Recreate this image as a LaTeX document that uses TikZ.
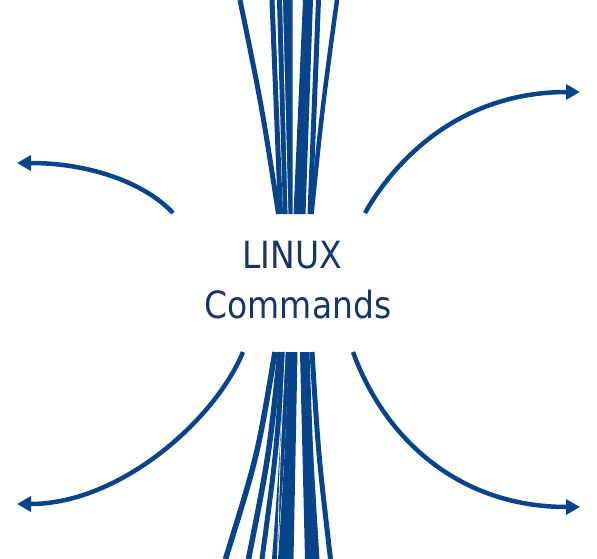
\documentclass[tikz,border=0pt]{standalone}
\usepackage{fontspec}
\usetikzlibrary{arrows.meta}
\newfontfamily\labelfont[FakeStretch=0.88]{DejaVu Sans}
\definecolor{strandblue}{RGB}{8,68,138}
\definecolor{textnavy}{RGB}{22,54,104}
\begin{document}
\begin{tikzpicture}[x=1pt,y=-1pt,
  strand/.style={draw=strandblue,line cap=butt},
  band/.style={fill=strandblue},
  flow/.style={draw=strandblue,line width=4.5pt,-{Triangle[length=14pt,width=15pt]}},
  label/.style={text=textnavy,font=\labelfont\fontsize{37.5}{44}\selectfont,anchor=base,inner sep=0pt}]
\useasboundingbox (0,0) rectangle (597,559);
% upper strand bundle: single strands (top x / bottom x / width)
\foreach \t/\b/\w in {240/278.5/5, 272/280.5/5, 318.5/310/5, 337/311.5/4.5}
  \draw[strand,line width=\w pt] (\t,0) .. controls ({\b+0.43*(\t-\b)},107) .. (\b,214);
% upper bundle: broad bands
\fill[band] (277,0) .. controls ({283+0.43*(277-283)},107) .. (283,214)
  -- (292.5,214) .. controls (292.5,107) .. (292.5,0) -- cycle;
\fill[band] (303,0) .. controls ({293.5+0.43*(303-293.5)},107) .. (293.5,214)
  -- (305.5,214) .. controls ({305.5+0.43*(313-305.5)},107) .. (313,0) -- cycle;
\draw[white,line width=0.8pt] (282.5,0) .. controls (286,107) .. (288,214);
% lower strand bundle: single strands
\foreach \t/\b/\w in {275/225.5/5.5, 280/248.5/5.5, 283.5/262/5, 286.5/274.5/5, 312/330.5/5}
  \draw[strand,line width=\w pt] (\t,352) .. controls ({\t+0.35*(\b-\t)},455.5) .. (\b,559);
% lower bundle: broad bands
\fill[band] (288.5,352) .. controls ({288.5+0.35*(278-288.5)},455.5) .. (278,559)
  -- (293.5,559) .. controls ({297.5+0.35*(293.5-297.5)},455.5) .. (297.5,352) -- cycle;
\fill[band] (300,352) .. controls ({300+0.35*(305-300)},455.5) .. (305,559)
  -- (319.5,559) .. controls ({309.5+0.35*(319.5-309.5)},455.5) .. (309.5,352) -- cycle;
\draw[white,line width=0.8pt] (285.2,352) .. controls (280,455.5) .. (277.5,559);
% centre text
\node[label] (linux) at (292,268) {LINUX};
\node[label] (cmds) at (298,318) {Commands};
% curved arrows
\coordinate (tls) at (173,213);
\coordinate (tle) at (17,163);
\coordinate (trs) at (365,213);
\coordinate (tre) at (580,92);
\coordinate (bls) at (243,352);
\coordinate (ble) at (17,504);
\coordinate (brs) at (353,352);
\coordinate (bre) at (580,507);
\draw[flow] (tls) .. controls (145,183) and (90,163) .. (tle);
\draw[flow] (trs) .. controls (395,160) and (460,92) .. (tre);
\draw[flow] (bls) .. controls (215,420) and (120,504) .. (ble);
\draw[flow] (brs) .. controls (385,440) and (460,507) .. (bre);
\end{tikzpicture}
\end{document}
